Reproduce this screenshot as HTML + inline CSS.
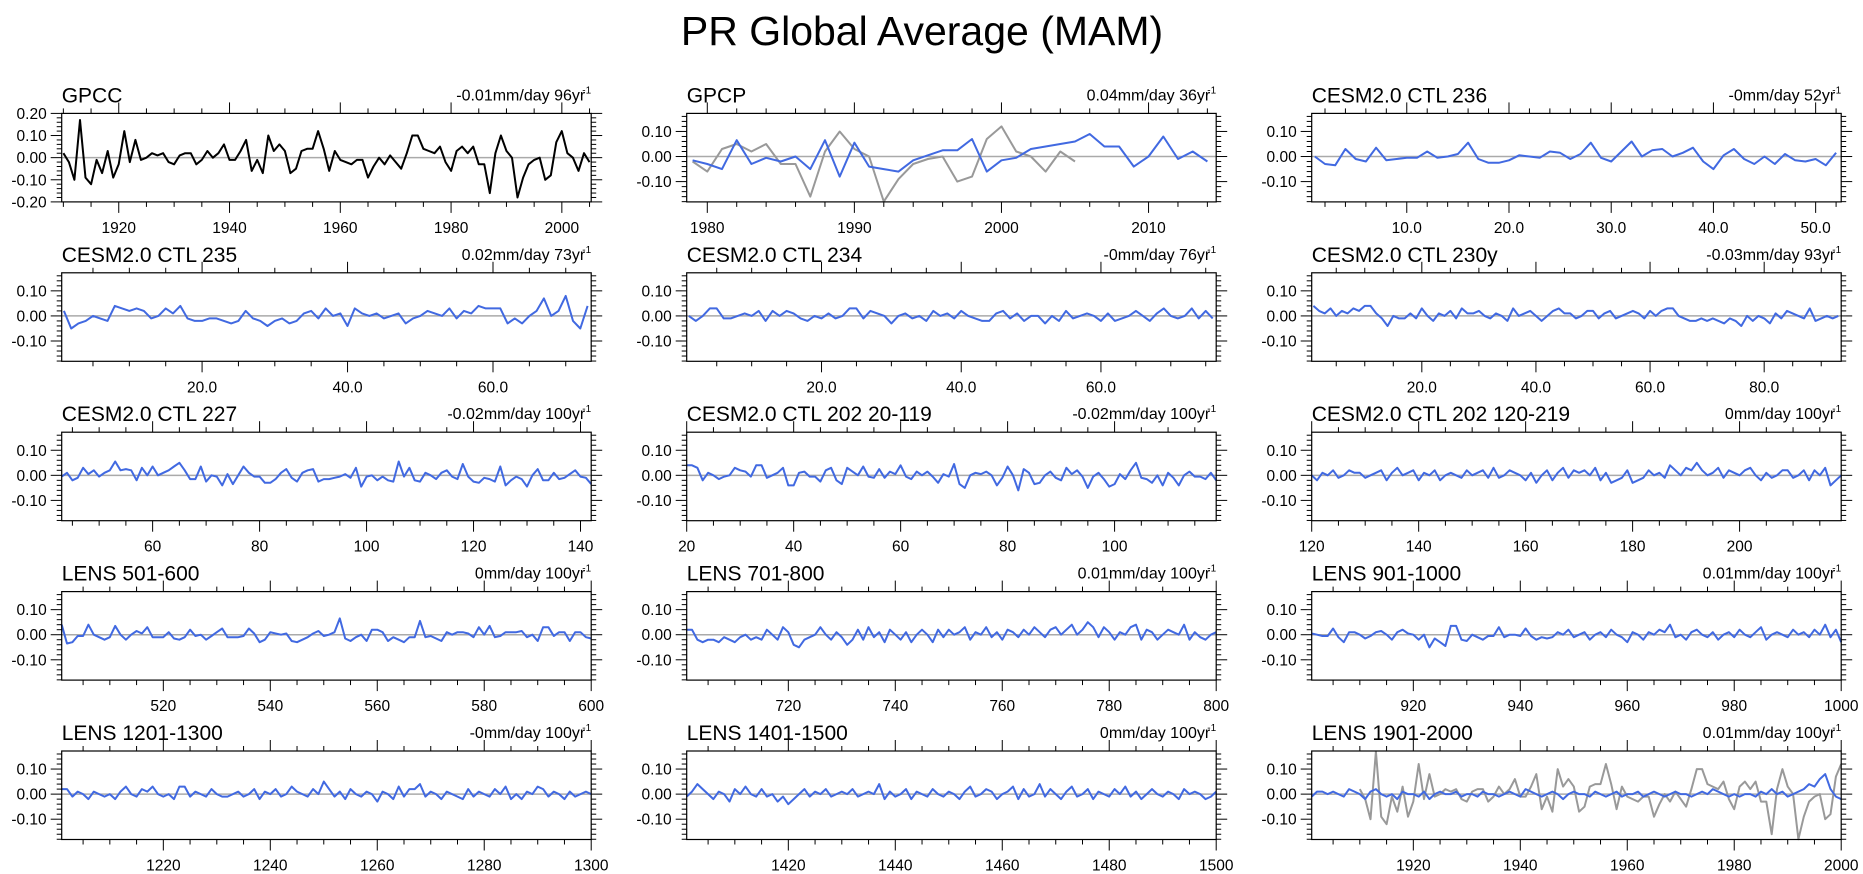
<!DOCTYPE html>
<html><head><meta charset="utf-8">
<style>
html,body{margin:0;padding:0;background:#fff;}
svg{display:block;font-family:"Liberation Sans",Arial,sans-serif;}
</style></head>
<body>
<svg id="chart" width="1863" height="874" viewBox="0 0 1863 874" xmlns="http://www.w3.org/2000/svg">
<text x="922" y="45" text-anchor="middle" font-size="41">PR Global Average (MAM)</text>
</svg>
<script>
// ---- data ----
const gpccStart = 1910;
const gpccValues = [0.02,-0.02,-0.10,0.17,-0.09,-0.12,-0.01,-0.07,0.03,-0.09,
-0.03,0.12,-0.02,0.08,-0.01,0.00,0.02,0.01,0.02,-0.02,
-0.03,0.01,0.02,0.02,-0.03,-0.01,0.03,0.00,0.02,0.06,
-0.01,-0.01,0.03,0.08,-0.06,-0.01,-0.07,0.10,0.03,0.06,
0.03,-0.07,-0.05,0.03,0.04,0.04,0.12,0.04,-0.06,0.03,
-0.01,-0.02,-0.03,-0.01,-0.01,-0.09,-0.04,0.00,-0.03,0.01,
-0.02,-0.05,0.02,0.10,0.10,0.04,0.03,0.02,0.05,-0.02,
-0.06,0.03,0.05,0.02,0.05,-0.03,-0.03,-0.16,0.02,0.10,
0.03,0.00,-0.18,-0.09,-0.03,-0.01,0.00,-0.10,-0.08,0.07,
0.12,0.02,0.00,-0.06,0.02,-0.02];
const gpcpStart = 1979;
const gpcpValues = [-0.015,-0.03,-0.05,0.065,-0.03,-0.005,-0.02,0.00,-0.05,0.065,
-0.08,0.055,-0.04,-0.05,-0.06,-0.015,0.005,0.025,0.025,0.07,
-0.06,-0.015,-0.005,0.03,0.04,0.05,0.06,0.09,0.04,0.04,
-0.04,0.00,0.08,-0.01,0.02,-0.02];
const ctl236 = [0.00,-0.03,-0.035,0.03,-0.01,-0.02,0.035,-0.015,-0.01,-0.005,
-0.005,0.02,-0.005,0.00,0.01,0.055,-0.01,-0.025,-0.025,-0.015,
0.005,0.00,-0.005,0.02,0.015,-0.01,0.01,0.055,-0.005,-0.02,
0.02,0.06,0.00,0.025,0.03,0.00,0.015,0.035,-0.02,-0.05,
0.005,0.03,-0.01,-0.03,0.00,-0.03,0.01,-0.015,-0.02,-0.01,
-0.035,0.015];
const ctl235 = [0.02,-0.05,-0.03,-0.02,0.00,-0.01,-0.02,0.04,0.03,0.02,
0.03,0.02,-0.01,0.00,0.03,0.01,0.04,-0.01,-0.02,-0.02,
-0.01,-0.01,-0.02,-0.03,-0.02,0.02,-0.01,-0.02,-0.04,-0.02,
-0.01,-0.03,-0.02,0.01,0.02,-0.01,0.03,0.00,0.01,-0.04,
0.03,0.01,0.00,0.01,-0.01,0.00,0.01,-0.03,-0.01,0.00,
0.02,0.01,0.00,0.03,-0.01,0.02,0.01,0.04,0.03,0.03,
0.03,-0.03,-0.01,-0.03,0.00,0.02,0.07,0.00,0.02,0.08,
-0.02,-0.05,0.04];
const ctl234 = [0.00,-0.02,0.00,0.03,0.03,-0.01,-0.01,0.00,0.01,0.00,
0.02,-0.02,0.02,0.00,0.02,0.01,-0.01,-0.02,0.00,-0.01,
0.01,-0.01,0.00,0.03,0.03,-0.01,0.02,0.01,0.00,-0.03,
0.00,0.01,-0.01,0.00,-0.02,0.02,0.00,0.01,-0.01,0.02,
0.00,-0.01,-0.02,-0.02,0.01,0.02,-0.01,0.01,-0.02,0.00,
0.00,-0.03,0.00,-0.02,0.02,-0.01,0.00,0.01,0.00,-0.02,
0.01,-0.02,-0.01,0.00,0.02,0.00,-0.02,0.01,0.03,0.00,
-0.01,0.00,0.03,-0.01,0.02,-0.01];
const ctl230 = [0.04,0.02,0.01,0.03,0.00,0.02,0.01,0.03,0.02,0.04,
0.04,0.01,-0.01,-0.04,0.00,-0.01,-0.01,0.01,-0.01,0.03,
0.00,-0.02,0.01,0.00,0.02,-0.01,0.03,0.01,0.01,0.02,
0.00,-0.01,0.01,0.00,-0.02,0.03,0.00,0.01,0.02,0.00,
-0.02,0.00,0.02,0.03,0.01,0.01,-0.01,0.00,0.02,0.02,
-0.01,0.01,0.02,-0.01,0.00,0.01,0.02,0.01,-0.01,0.02,
0.00,0.02,0.03,0.03,0.00,-0.01,-0.02,-0.02,-0.01,-0.02,
-0.01,-0.02,-0.03,-0.01,-0.02,-0.04,0.00,-0.02,0.00,-0.01,
-0.03,0.01,-0.01,0.02,0.01,0.00,-0.01,0.03,-0.02,-0.01,
0.00,-0.01,0.00];
const ctl227 = [-0.005,0.01,-0.02,-0.01,0.03,0.005,0.02,-0.005,0.01,0.02,
0.055,0.02,0.025,0.02,-0.02,0.03,0.00,0.035,0.00,0.01,
0.02,0.035,0.05,0.02,-0.015,-0.015,0.035,-0.025,0.00,-0.005,
-0.04,0.005,-0.035,0.00,0.035,0.01,-0.005,-0.005,-0.03,-0.03,
-0.015,0.01,0.025,-0.01,-0.025,0.01,0.02,0.025,-0.025,-0.015,
-0.015,-0.01,-0.005,0.005,-0.01,0.03,-0.045,-0.005,0.00,-0.02,
-0.005,-0.02,-0.025,0.055,-0.005,0.03,-0.02,-0.025,0.01,0.00,
-0.015,0.01,0.02,-0.005,-0.015,0.045,-0.005,-0.025,-0.03,-0.01,
-0.015,-0.025,0.035,-0.04,-0.02,-0.005,-0.015,-0.045,0.00,0.025,
-0.02,-0.02,0.01,-0.015,-0.01,0.005,0.02,-0.005,-0.01,-0.035];
const ctl202a = [0.04,0.04,0.03,-0.02,0.01,0.00,-0.015,-0.005,0.00,0.03,
0.02,0.015,-0.005,0.04,0.04,-0.01,0.00,0.01,0.03,-0.04,
-0.04,0.01,0.015,-0.005,-0.005,-0.025,0.02,0.03,-0.02,-0.035,
0.03,0.015,0.00,0.035,-0.005,-0.01,0.025,-0.01,0.015,0.005,
0.04,-0.005,-0.015,0.015,0.00,0.015,-0.005,-0.03,0.005,-0.005,
0.045,-0.035,-0.05,0.00,0.01,0.005,0.015,0.00,-0.04,-0.01,
0.035,0.00,-0.06,0.025,0.01,-0.035,-0.03,0.00,0.015,-0.01,
-0.02,0.03,0.005,0.02,-0.005,-0.05,-0.005,0.01,-0.015,-0.045,
-0.035,0.005,-0.015,0.02,0.05,-0.01,-0.015,-0.03,0.00,-0.04,
0.01,-0.01,-0.04,0.00,0.015,-0.005,-0.005,-0.015,0.01,-0.02];
const ctl202b = [0.00,-0.02,0.01,0.00,0.02,-0.01,0.00,0.02,0.01,0.01,
-0.01,0.00,0.01,0.02,-0.02,0.01,0.03,0.00,0.01,0.02,
-0.02,0.01,0.00,0.02,-0.02,0.00,0.01,0.00,-0.01,0.02,
0.00,0.01,0.02,-0.01,0.03,-0.01,0.00,0.02,0.01,0.00,
-0.02,0.01,-0.03,0.00,0.02,-0.02,0.01,0.03,-0.01,0.02,
0.01,0.02,0.00,0.03,-0.02,0.01,-0.03,-0.02,-0.01,0.02,
-0.03,-0.02,-0.01,0.02,0.00,0.01,-0.01,0.04,0.02,0.00,
0.03,0.02,0.05,0.02,0.00,0.01,0.03,-0.01,0.02,0.01,
0.00,0.02,0.03,0.00,-0.02,0.01,-0.01,0.00,0.02,0.02,
-0.01,0.00,0.02,-0.02,0.02,0.00,0.03,-0.04,-0.02,0.00];
const lens501 = [0.04,-0.035,-0.03,-0.005,-0.005,0.04,0.00,-0.01,-0.02,-0.01,
0.035,0.00,-0.02,0.00,0.015,0.005,0.03,-0.01,-0.01,-0.01,
0.01,-0.015,-0.02,-0.01,0.02,-0.005,0.00,-0.02,-0.005,0.01,
0.025,-0.01,-0.01,-0.01,-0.005,0.025,0.005,-0.03,-0.02,0.01,
0.005,0.00,0.005,-0.025,-0.03,-0.02,-0.01,0.005,0.015,-0.005,
0.00,0.01,0.065,-0.015,-0.025,-0.01,0.00,-0.025,0.02,0.02,
0.01,-0.025,-0.01,-0.02,-0.03,-0.01,-0.01,0.055,-0.01,-0.005,
-0.015,-0.025,0.01,0.00,0.01,0.01,0.005,-0.01,0.03,0.00,
0.035,-0.01,-0.005,0.01,0.01,0.01,0.015,-0.01,0.00,-0.025,
0.03,0.03,-0.005,0.01,0.01,-0.025,0.01,0.01,-0.01,-0.015];
const lens701 = [0.02,0.02,-0.02,-0.03,-0.02,-0.02,-0.03,-0.01,-0.02,-0.03,
-0.01,0.00,-0.02,-0.01,-0.02,0.02,0.00,-0.02,0.03,0.01,
-0.04,-0.05,-0.02,-0.01,0.00,0.03,0.00,-0.02,0.01,-0.01,
-0.04,-0.02,0.02,-0.02,0.03,-0.01,0.01,-0.03,0.02,0.00,
-0.02,0.01,-0.03,0.00,0.02,0.00,-0.03,0.02,-0.01,0.02,
0.00,0.01,0.03,-0.02,0.01,0.00,0.03,-0.01,0.01,-0.02,
0.02,0.01,-0.01,0.02,0.00,0.03,0.01,-0.01,0.02,0.03,
0.00,0.02,0.04,0.00,0.02,0.05,0.03,-0.01,0.03,0.01,
-0.02,0.01,0.00,0.03,0.04,-0.02,0.02,0.01,-0.02,0.00,
0.02,0.01,0.00,0.04,-0.02,0.01,-0.01,-0.02,0.00,0.01];
const lens901 = [0.005,0.00,-0.005,-0.005,0.025,-0.01,-0.03,0.01,0.01,0.00,
-0.015,-0.005,0.01,0.015,0.00,-0.02,0.01,0.02,0.005,0.00,
-0.02,0.00,-0.05,-0.015,-0.03,-0.045,0.035,0.035,-0.02,-0.025,
0.00,-0.01,-0.02,-0.005,-0.005,0.03,-0.01,0.00,0.00,-0.005,
0.025,-0.005,-0.02,-0.01,-0.015,-0.01,0.01,0.00,0.02,-0.01,
0.00,0.01,-0.02,0.00,0.01,-0.01,0.02,0.00,-0.01,-0.03,
0.01,0.00,-0.02,0.01,0.00,0.02,0.01,0.04,-0.01,0.00,
-0.02,0.01,0.02,0.00,-0.01,0.01,-0.02,0.00,0.01,-0.01,
0.02,0.00,-0.01,0.01,0.03,-0.02,0.00,0.01,0.00,-0.01,
0.02,0.00,0.01,-0.01,0.02,0.00,0.04,-0.01,0.02,-0.03];
const lens1201 = [0.02,0.02,-0.01,0.01,0.00,-0.02,0.01,0.00,-0.01,0.00,
-0.02,0.01,0.03,0.00,-0.01,0.02,0.01,0.03,0.00,-0.01,
0.00,-0.02,0.03,0.03,-0.01,0.01,0.00,-0.01,0.02,0.00,
-0.01,-0.01,0.00,0.01,-0.01,0.00,0.02,-0.02,0.01,0.00,
0.02,-0.01,0.00,0.03,0.01,0.00,-0.01,0.02,0.00,0.05,
0.02,-0.01,0.01,-0.02,0.02,0.00,-0.01,0.01,0.00,-0.03,
0.01,0.00,-0.02,0.03,-0.01,0.02,0.02,0.04,-0.01,0.01,
0.00,-0.02,0.01,0.00,-0.01,-0.02,0.02,-0.01,0.01,0.00,
-0.01,0.02,0.00,0.03,-0.02,0.00,-0.02,0.01,0.00,0.03,
0.02,-0.01,0.01,0.00,-0.02,0.01,-0.01,0.00,0.01,0.00];
const lens1401 = [-0.01,0.01,0.04,0.02,0.00,-0.02,0.01,0.00,-0.03,0.02,
0.00,0.03,0.00,-0.01,0.02,-0.01,0.00,-0.03,-0.01,-0.04,
-0.02,0.00,0.02,-0.01,0.01,0.00,0.02,-0.01,0.00,0.01,
0.00,0.02,-0.01,0.00,0.01,0.00,0.04,-0.02,0.01,-0.01,
0.00,0.02,-0.02,0.01,0.00,-0.01,0.02,0.00,-0.01,0.01,
0.00,-0.02,0.01,0.03,-0.01,0.00,0.02,0.01,-0.02,0.00,
0.01,0.03,-0.02,0.02,-0.01,0.00,0.04,-0.01,0.02,0.00,
-0.02,0.01,0.03,-0.01,0.00,0.02,-0.02,0.01,0.00,-0.01,
0.02,0.00,0.03,-0.01,0.01,-0.02,0.00,0.02,0.00,-0.01,
0.01,0.00,-0.02,0.02,0.00,0.01,0.00,-0.02,-0.01,0.01];
const lens1901 = [-0.01,0.01,0.01,0.00,0.01,0.00,-0.01,0.02,0.01,0.00,
-0.02,0.01,0.02,0.00,-0.01,0.00,-0.02,0.01,0.00,0.00,
-0.01,0.01,-0.02,0.00,0.01,0.00,0.00,0.01,-0.01,0.00,
0.00,-0.01,0.01,0.00,0.00,-0.01,0.00,0.01,0.00,-0.01,
0.02,0.01,0.00,-0.01,0.00,0.01,0.00,-0.02,0.00,0.01,
0.00,0.00,-0.01,0.01,0.00,-0.01,0.00,0.01,-0.01,0.00,
0.00,0.01,-0.01,0.00,0.01,0.00,-0.01,0.00,0.01,0.00,
0.00,-0.01,0.00,0.01,0.00,0.02,0.01,0.00,-0.01,0.00,
-0.01,0.00,0.00,-0.01,0.01,0.00,0.02,0.00,0.01,-0.01,
0.00,0.01,0.02,0.04,0.03,0.06,0.08,0.02,-0.01,-0.02];
const panelTitles = ["GPCC","GPCP","CESM2.0 CTL 236","CESM2.0 CTL 235","CESM2.0 CTL 234","CESM2.0 CTL 230y",
"CESM2.0 CTL 227","CESM2.0 CTL 202 20-119","CESM2.0 CTL 202 120-219","LENS 501-600","LENS 701-800","LENS 901-1000",
"LENS 1201-1300","LENS 1401-1500","LENS 1901-2000"];
const trendLabels = ["-0.01mm/day 96yr","0.04mm/day 36yr","-0mm/day 52yr","0.02mm/day 73yr","-0mm/day 76yr","-0.03mm/day 93yr",
"-0.02mm/day 100yr","-0.02mm/day 100yr","0mm/day 100yr","0mm/day 100yr","0.01mm/day 100yr","0.01mm/day 100yr",
"-0mm/day 100yr","0mm/day 100yr","0.01mm/day 100yr"];
const blueSeries = [null,gpcpValues,ctl236,ctl235,ctl234,ctl230,ctl227,ctl202a,ctl202b,lens501,lens701,lens901,lens1201,lens1401,lens1901];
const seriesStart = [1910,1979,1,1,1,1,43,20,120,501,701,901,1201,1401,1901];
const xMajorTicks = [[1920,1940,1960,1980,2000],[1980,1990,2000,2010],[10,20,30,40,50],[20,40,60],[20,40,60],[20,40,60,80],
[60,80,100,120,140],[20,40,60,80,100],[120,140,160,180,200],[520,540,560,580,600],[720,740,760,780,800],[920,940,960,980,1000],
[1220,1240,1260,1280,1300],[1420,1440,1460,1480,1500],[1920,1940,1960,1980,2000]];
const xMinorStep = [5,2,2,5,5,5,5,5,5,5,5,5,5,5,5];
const xDecimalLabels = [0,0,1,1,1,1,0,0,0,0,0,0,0,0,0];

// ---- drawing ----
const svg = document.getElementById('chart');
const NS = 'http://www.w3.org/2000/svg';
const colLeft = [61.7, 686.7, 1311.7], boxW = 529.5, boxH = 88.5;
const rowTop = [113.4, 272.8, 432.2, 591.6, 751.0];
function mk(tag, attrs, parent){ const e=document.createElementNS(NS,tag); for(const k in attrs) e.setAttribute(k,attrs[k]); (parent||svg).appendChild(e); return e; }

for(let p=0;p<15;p++){
  const L=colLeft[p%3], T=rowTop[Math.floor(p/3)], R=L+boxW, B=T+boxH;
  const g=mk('g',{});
  
  
  let ys, yMin, yMax, yLabels;
  if(p===0){ yMin=-0.2; yMax=0.2; yLabels=[-0.2,-0.1,0,0.1,0.2]; }
  else { yMin=-0.181; yMax=0.172; yLabels=[-0.1,0,0.1]; }
  ys = v => B - (v - yMin)/(yMax - yMin)*boxH;
  let x0, x1;
  if(p===0){ x0=1909.7; x1=2005.3; }
  else if(p===1){ x0=1978.6; x1=2014.6; }
  else { const n=blueSeries[p].length; x0=seriesStart[p]; x1=seriesStart[p]+n-1; if(p>=2&&p<=5){x0-=0.3;x1+=0.5;} }
  const xs = v => L + (v - x0)/(x1 - x0)*boxW;
  const z=mk('line',{x1:L,x2:R,y1:ys(0),y2:ys(0),stroke:'#aaaaaa','stroke-width':1.5},g);
  
  
  for(let v=Math.ceil(yMin/0.02-1e-6)*0.02; v<=yMax+1e-9; v+=0.02){
    const yy=ys(v); const major=Math.abs(Math.round(v*10)-v*10)<1e-6;
    const len=major?11:5;
    mk('line',{x1:L-len,x2:L,y1:yy,y2:yy,stroke:'#000','stroke-width':1},g);
    mk('line',{x1:R,x2:R+len,y1:yy,y2:yy,stroke:'#000','stroke-width':1},g);
  }
  yLabels.forEach(v=>{
    const t=mk('text',{x:L-15,y:ys(v)+5.5,'text-anchor':'end','font-size':15.5},g);
    t.textContent=v.toFixed(2).replace('-0.00','0.00');
    
    
  });
  const st=xMinorStep[p];
  for(let v=Math.ceil(x0/st)*st; v<=x1+1e-9; v+=st){
    const xx=xs(v); const major=xMajorTicks[p].includes(v); const len=major?11:5;
    mk('line',{x1:xx,x2:xx,y1:B,y2:B+len,stroke:'#000','stroke-width':1},g);
    mk('line',{x1:xx,x2:xx,y1:T-len,y2:T,stroke:'#000','stroke-width':1},g);
  }
  xMajorTicks[p].forEach(v=>{
    const t=mk('text',{x:xs(v),y:B+31,'text-anchor':'middle','font-size':15.5},g);
    t.textContent=xDecimalLabels[p]?v.toFixed(1):String(v);
    
    
  });
  function line(vals,start,color,name){
    const pts=vals.map((v,i)=>xs(start+i).toFixed(1)+','+ys(v).toFixed(1)).join(' ');
    const pl=mk('polyline',{points:pts,fill:'none',stroke:color,'stroke-width':2,'stroke-linejoin':'round'},g);
    
    
  }
  if(p===0){ line(gpccValues,gpccStart,'#000','gpcc-series-line'); }
  else if(p===1){ line(gpccValues.slice(1979-gpccStart),1979,'#999999','gpcc-overlay-line'); line(gpcpValues,gpcpStart,'#4169e1','gpcp-series-line'); }
  else if(p===14){ line(gpccValues.slice(0,2000-gpccStart+1),gpccStart,'#999999','gpcc-overlay-line'); line(lens1901,1901,'#4169e1','model-series-line'); }
  else { line(blueSeries[p],seriesStart[p],'#4169e1','model-series-line'); }
  const bx=mk('rect',{x:L,y:T,width:boxW,height:boxH,fill:'none',stroke:'#000','stroke-width':1.2},g);
  
  
  const lt=mk('text',{x:L,y:T-11,'font-size':21},g);
  lt.textContent=panelTitles[p];
  
  
  const rt=mk('text',{x:R-6,y:T-13,'text-anchor':'end','font-size':16},g);
  rt.textContent=trendLabels[p];
  
  
  const sup=mk('text',{x:R,y:T-20,'text-anchor':'end','font-size':10},g);
  sup.textContent='-1';
  
  
}
</script>
</body></html>
